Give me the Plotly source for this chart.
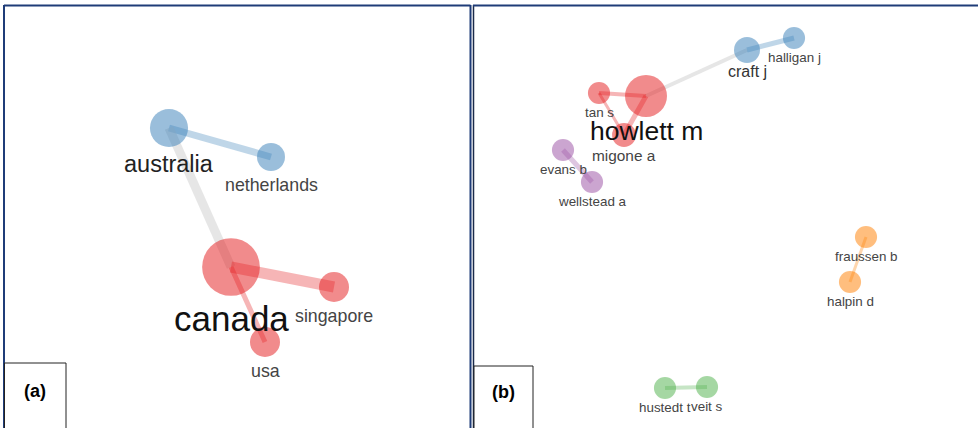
import plotly.graph_objects as go
import math

# ---------------- data ----------------
# Panel (a): country collaboration network (layout coordinates, node weights, clusters)
a_nodes = ["australia", "netherlands", "canada", "singapore", "usa"]
a_x = [165, 267, 227, 330, 261]
a_y = [122, 151, 261, 281, 336]
a_weight = [7.4, 4.0, 17.0, 4.6, 4.6]
a_cluster = [1, 1, 0, 0, 0]
a_edges = [("australia", "netherlands"), ("australia", "canada"),
           ("canada", "singapore"), ("canada", "usa")]
a_edge_w = [7, 9, 11, 5]

# Panel (b): author collaboration network
b_nodes = ["howlett m", "tan s", "migone a", "craft j", "halligan j", "evans b",
           "wellstead a", "fraussen b", "halpin d", "hustedt t", "veit s"]
b_x = [173, 126, 151, 274, 321, 90, 119, 393, 377, 192, 234]
b_y = [90, 87, 129, 44, 32, 144, 176, 231, 276, 382, 381]
b_weight = [9.0, 2.5, 2.9, 3.45, 2.5, 2.5, 2.5, 2.5, 2.5, 2.5, 2.5]
b_cluster = [0, 0, 0, 1, 1, 2, 2, 3, 3, 4, 4]
b_edges = [("howlett m", "craft j"), ("craft j", "halligan j"), ("tan s", "howlett m"),
           ("howlett m", "migone a"), ("tan s", "migone a"), ("evans b", "wellstead a"),
           ("fraussen b", "halpin d"), ("hustedt t", "veit s")]
b_edge_w = [4, 5, 4, 5, 3, 5, 3, 4]

panel_labels = ["(a)", "(b)"]

# ---------------- styles ----------------
cluster_rgb = [(228, 26, 28), (55, 126, 184), (152, 78, 163), (255, 127, 0), (77, 175, 74)]
FONT = "Liberation Sans, Arial, sans-serif"
a_font = {"canada": (35, "#111111"), "australia": (23.5, "#222222")}
b_font = {"howlett m": (26.5, "#111111"), "craft j": (16, "#333333"), "migone a": (15.4, "#444444")}
a_default_font = (17.8, "#444444")
b_default_font = (13.4, "#444444")
label_gap = [5.5, 0.8]

W, H = 978, 428
panels = [
    dict(x0=4, x1=470, y0=6),
    dict(x0=473, x1=978, y0=6),
]

fig = go.Figure()


def rgba(c, a):
    return f"rgba({c[0]},{c[1]},{c[2]},{a})"


def add_network(idx, names, xs, ys, weights, clusters, edges, ew, k, fonts, dfont):
    xa = "x" if idx == 0 else f"x{idx + 1}"
    ya = "y" if idx == 0 else f"y{idx + 1}"
    pos = {n: (x, y) for n, x, y in zip(names, xs, ys)}
    cl = {n: c for n, c in zip(names, clusters)}
    # edges
    for (s, t), w in zip(edges, ew):
        if cl[s] == cl[t]:
            col = rgba(cluster_rgb[cl[s]], 0.32)
        else:
            col = "rgba(205,205,205,0.5)"
        fig.add_trace(go.Scatter(x=[pos[s][0], pos[t][0]], y=[pos[s][1], pos[t][1]],
                                 mode="lines", line=dict(color=col, width=w),
                                 xaxis=xa, yaxis=ya, hoverinfo="skip", showlegend=False))
    # nodes
    sizes = [k * math.sqrt(w) for w in weights]
    fig.add_trace(go.Scatter(x=xs, y=ys, mode="markers",
                             marker=dict(size=sizes,
                                         color=[rgba(cluster_rgb[c], 0.72) for c in clusters],
                                         line=dict(width=0)),
                             text=names, hoverinfo="text",
                             xaxis=xa, yaxis=ya, showlegend=False))
    # labels
    for n, x, y, s in zip(names, xs, ys, sizes):
        fs, fc = fonts.get(n, dfont)
        off = max(s / 2, 12) + fs * 0.5 + label_gap[idx]
        fig.add_annotation(x=x, y=y + off, text=n, showarrow=False,
                           xref=xa, yref=ya, xanchor="center", yanchor="middle",
                           font=dict(family=FONT, size=fs, color=fc))


add_network(0, a_nodes, a_x, a_y, a_weight, a_cluster, a_edges, a_edge_w, 14.0,
            a_font, a_default_font)
add_network(1, b_nodes, b_x, b_y, b_weight, b_cluster, b_edges, b_edge_w, 14.0,
            b_font, b_default_font)

axis_common = dict(visible=False, showgrid=False, zeroline=False, fixedrange=True)
layout = dict(width=W, height=H, margin=dict(l=0, r=0, t=0, b=0),
              paper_bgcolor="white", plot_bgcolor="rgba(0,0,0,0)")
for i, p in enumerate(panels):
    sfx = "" if i == 0 else str(i + 1)
    layout[f"xaxis{sfx}"] = dict(axis_common, domain=[p["x0"] / W, p["x1"] / W],
                                 range=[0, p["x1"] - p["x0"]], anchor=f"y{sfx}")
    layout[f"yaxis{sfx}"] = dict(axis_common, domain=[0, 1 - p["y0"] / H],
                                 range=[H - p["y0"], 0], anchor=f"x{sfx}")
# overlay axis in page pixels for frames
layout["xaxis3"] = dict(axis_common, domain=[0, 1], range=[0, W], anchor="y3")
layout["yaxis3"] = dict(axis_common, domain=[0, 1], range=[H, 0], anchor="x3")
fig.update_layout(**layout)
fig.add_trace(go.Scatter(x=[0], y=[0], mode="markers", marker=dict(opacity=0),
                         xaxis="x3", yaxis="y3", hoverinfo="skip", showlegend=False))

navy = "#1f3c78"
shapes = [
    # panel (a) frame
    dict(type="line", x0=4, x1=4, y0=5, y1=H + 2, line=dict(color=navy, width=2)),
    dict(type="line", x0=4, x1=470.5, y0=5.5, y1=5.5, line=dict(color=navy, width=2)),
    dict(type="line", x0=470.5, x1=470.5, y0=5, y1=H + 2, line=dict(color=navy, width=2)),
    # panel (b) frame
    dict(type="line", x0=473.5, x1=473.5, y0=5, y1=H + 2, line=dict(color="#1a2a4a", width=1.5)),
    dict(type="line", x0=473, x1=W + 2, y0=5.5, y1=5.5, line=dict(color=navy, width=2)),
    # label boxes
    dict(type="rect", x0=4.5, x1=66, y0=363, y1=H + 2, line=dict(color="#222222", width=1),
         fillcolor="white"),
    dict(type="rect", x0=474, x1=533, y0=366, y1=H + 2, line=dict(color="#222222", width=1),
         fillcolor="white"),
]
for s in shapes:
    s.update(xref="x3", yref="y3", layer="above")
    fig.add_shape(**s)

for lab, cx, cy in zip(panel_labels, [35, 503], [391, 392]):
    fig.add_annotation(x=cx, y=cy, text=f"<b>{lab}</b>", showarrow=False, xref="x3", yref="y3",
                       xanchor="center", yanchor="middle",
                       font=dict(family=FONT, size=18, color="#000000"))

fig.write_html("out.html")
